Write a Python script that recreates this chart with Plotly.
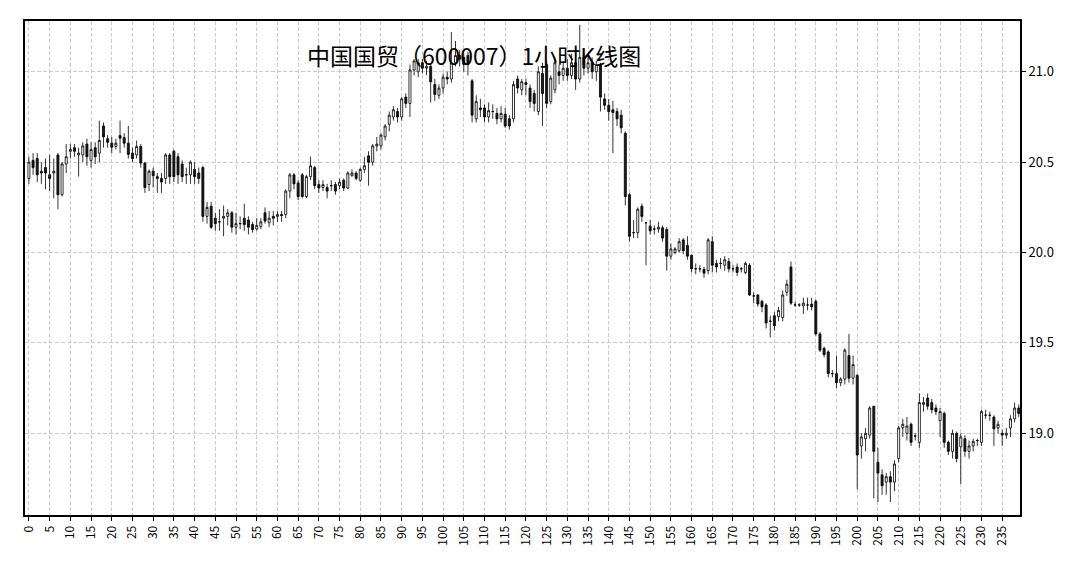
import plotly.graph_objects as go

TITLE = "中国国贸（600007）1小时K线图"

OPEN = [20.41, 20.51, 20.52, 20.45, 20.47, 20.43, 20.44, 20.54, 20.32, 20.49,
        20.56, 20.58, 20.54, 20.54, 20.60, 20.51, 20.58, 20.55, 20.70, 20.63,
        20.605, 20.587, 20.647, 20.636, 20.605, 20.55, 20.54, 20.587, 20.495, 20.376,
        20.45, 20.42, 20.41, 20.41, 20.54, 20.56, 20.53, 20.49, 20.43, 20.43,
        20.46, 20.44, 20.47, 20.20, 20.256, 20.19, 20.17, 20.19, 20.20, 20.22,
        20.14, 20.16, 20.19, 20.18, 20.155, 20.13, 20.145, 20.22, 20.165, 20.20,
        20.20, 20.21, 20.21, 20.34, 20.43, 20.385, 20.43, 20.31, 20.42, 20.47,
        20.376, 20.36, 20.36, 20.37, 20.376, 20.37, 20.40, 20.357, 20.425, 20.44,
        20.40, 20.46, 20.535, 20.50, 20.59, 20.59, 20.64, 20.71, 20.75, 20.78,
        20.75, 20.86, 20.825, 21.01, 21.00, 21.05, 21.02, 21.03, 20.93, 20.87,
        20.91, 20.97, 20.96, 21.05, 21.09, 21.08, 21.09, 20.95, 20.74, 20.80,
        20.80, 20.75, 20.78, 20.77, 20.74, 20.765, 20.74, 20.74, 20.96, 20.90,
        20.94, 20.91, 20.88, 20.78, 20.99, 21.04, 20.835, 20.90, 21.00, 20.98,
        21.02, 20.98, 21.05, 20.96, 21.08, 21.02, 21.05, 21.00, 21.04, 20.85,
        20.815, 20.79, 20.78, 20.76, 20.66, 20.32, 20.11, 20.11, 20.256, 20.165,
        20.146, 20.13, 20.13, 20.137, 20.128, 19.98, 20.00, 20.01, 20.07, 20.04,
        19.985, 19.91, 19.91, 19.907, 19.90, 20.06, 19.94, 19.94, 19.93, 19.95,
        19.91, 19.92, 19.91, 19.89, 19.93, 19.76, 19.765, 19.73, 19.71, 19.62,
        19.65, 19.645, 19.64, 19.78, 19.92, 19.71, 19.71, 19.705, 19.71, 19.715,
        19.73, 19.55, 19.47, 19.45, 19.33, 19.33, 19.28, 19.30, 19.43, 19.305,
        19.32, 18.93, 18.97, 18.99, 19.15, 18.84, 18.77, 18.73, 18.76, 18.73,
        18.86, 19.03, 19.00, 19.05, 18.985, 18.95, 19.16, 19.195, 19.17, 19.14,
        19.07, 19.11, 18.95, 18.90, 19.00, 18.925, 18.97, 18.90, 18.93, 18.96,
        18.95, 19.10, 19.10, 19.09, 19.03, 19.00, 18.99, 19.03, 19.08, 19.14]

HIGH = [20.53, 20.55, 20.55, 20.50, 20.52, 20.54, 20.52, 20.55, 20.50, 20.60,
        20.60, 20.60, 20.58, 20.61, 20.63, 20.61, 20.61, 20.73, 20.72, 20.65,
        20.64, 20.63, 20.73, 20.66, 20.70, 20.58, 20.62, 20.60, 20.50, 20.46,
        20.47, 20.44, 20.44, 20.55, 20.55, 20.57, 20.55, 20.51, 20.47, 20.51,
        20.50, 20.47, 20.48, 20.28, 20.28, 20.22, 20.24, 20.26, 20.24, 20.23,
        20.22, 20.20, 20.27, 20.20, 20.17, 20.19, 20.19, 20.25, 20.23, 20.23,
        20.23, 20.23, 20.35, 20.44, 20.44, 20.40, 20.44, 20.43, 20.53, 20.48,
        20.40, 20.40, 20.38, 20.40, 20.39, 20.41, 20.41, 20.45, 20.46, 20.45,
        20.47, 20.53, 20.56, 20.60, 20.64, 20.66, 20.71, 20.78, 20.81, 20.80,
        20.86, 20.88, 21.04, 21.07, 21.07, 21.07, 21.06, 21.04, 20.96, 20.93,
        20.99, 21.00, 21.22, 21.17, 21.12, 21.10, 21.11, 20.96, 20.87, 20.85,
        20.82, 20.83, 20.82, 20.80, 20.81, 20.80, 20.76, 20.95, 20.98, 20.96,
        20.96, 20.93, 20.90, 21.03, 21.05, 21.06, 20.98, 21.07, 21.04, 21.06,
        21.07, 21.10, 21.13, 21.26, 21.10, 21.09, 21.08, 21.06, 21.05, 20.88,
        20.85, 20.84, 20.80, 20.79, 20.67, 20.33, 20.18, 20.25, 20.27, 20.17,
        20.18, 20.15, 20.17, 20.15, 20.14, 20.05, 20.03, 20.08, 20.08, 20.09,
        19.99, 19.94, 19.93, 19.92, 20.08, 20.09, 19.96, 19.97, 19.98, 19.97,
        19.93, 19.94, 19.92, 19.95, 19.94, 19.78, 19.77, 19.74, 19.72, 19.65,
        19.67, 19.70, 19.79, 19.85, 19.95, 19.73, 19.72, 19.75, 19.75, 19.75,
        19.74, 19.56, 19.48, 19.46, 19.35, 19.43, 19.31, 19.47, 19.55, 19.43,
        19.33, 19.00, 19.03, 19.15, 19.15, 18.92, 18.80, 18.78, 18.79, 18.85,
        19.04, 19.08, 19.09, 19.06, 19.00, 19.22, 19.20, 19.22, 19.19, 19.16,
        19.14, 19.12, 18.96, 19.02, 19.01, 19.00, 18.99, 18.96, 18.97, 18.97,
        19.13, 19.13, 19.12, 19.10, 19.07, 19.02, 19.03, 19.10, 19.17, 19.16]

LOW = [20.38, 20.43, 20.39, 20.38, 20.35, 20.34, 20.30, 20.24, 20.31, 20.44,
       20.52, 20.53, 20.42, 20.50, 20.48, 20.47, 20.49, 20.50, 20.58, 20.58,
       20.55, 20.57, 20.55, 20.58, 20.52, 20.50, 20.52, 20.47, 20.33, 20.34,
       20.36, 20.33, 20.33, 20.38, 20.38, 20.39, 20.38, 20.39, 20.38, 20.38,
       20.38, 20.38, 20.17, 20.16, 20.13, 20.12, 20.12, 20.09, 20.15, 20.11,
       20.10, 20.13, 20.12, 20.10, 20.11, 20.12, 20.13, 20.16, 20.14, 20.15,
       20.17, 20.17, 20.19, 20.30, 20.35, 20.29, 20.30, 20.30, 20.40, 20.35,
       20.33, 20.34, 20.30, 20.34, 20.32, 20.35, 20.34, 20.35, 20.42, 20.40,
       20.39, 20.44, 20.37, 20.48, 20.56, 20.57, 20.62, 20.67, 20.73, 20.72,
       20.73, 20.80, 20.75, 20.98, 20.97, 20.99, 20.98, 20.83, 20.84, 20.85,
       20.88, 20.93, 20.94, 21.03, 21.03, 21.00, 20.98, 20.72, 20.72, 20.75,
       20.72, 20.72, 20.74, 20.71, 20.72, 20.69, 20.68, 20.72, 20.88, 20.87,
       20.87, 20.80, 20.78, 20.76, 20.70, 20.80, 20.82, 20.88, 20.93, 20.95,
       20.95, 20.96, 20.90, 20.94, 20.98, 20.99, 20.96, 20.95, 20.78, 20.79,
       20.73, 20.55, 20.70, 20.66, 20.26, 20.06, 20.08, 20.08, 20.17, 19.93,
       20.10, 20.10, 20.11, 20.06, 19.90, 19.96, 19.99, 20.00, 19.99, 19.96,
       19.89, 19.88, 19.89, 19.86, 19.88, 19.89, 19.89, 19.91, 19.90, 19.89,
       19.89, 19.87, 19.89, 19.88, 19.76, 19.72, 19.70, 19.67, 19.58, 19.53,
       19.57, 19.62, 19.62, 19.76, 19.71, 19.70, 19.70, 19.66, 19.68, 19.68,
       19.54, 19.45, 19.42, 19.31, 19.31, 19.25, 19.26, 19.27, 19.28, 19.27,
       18.69, 18.86, 18.90, 18.97, 18.64, 18.62, 18.66, 18.66, 18.62, 18.68,
       18.84, 18.98, 18.96, 18.93, 18.96, 18.92, 19.12, 19.13, 19.11, 19.10,
       18.98, 18.92, 18.88, 18.86, 18.84, 18.72, 18.87, 18.86, 18.90, 18.93,
       18.93, 19.08, 19.07, 18.93, 19.00, 18.93, 18.97, 18.98, 19.06, 19.09]

CLOSE = [20.50, 20.47, 20.43, 20.44, 20.44, 20.41, 20.45, 20.32, 20.49, 20.53,
         20.57, 20.56, 20.55, 20.59, 20.53, 20.57, 20.53, 20.62, 20.64, 20.61,
         20.583, 20.605, 20.633, 20.605, 20.543, 20.52, 20.587, 20.495, 20.36, 20.45,
         20.425, 20.41, 20.39, 20.54, 20.42, 20.42, 20.43, 20.42, 20.43, 20.50,
         20.42, 20.41, 20.20, 20.25, 20.14, 20.16, 20.17, 20.20, 20.22, 20.14,
         20.16, 20.16, 20.155, 20.14, 20.128, 20.15, 20.17, 20.174, 20.19, 20.19,
         20.21, 20.205, 20.34, 20.43, 20.38, 20.31, 20.31, 20.42, 20.48, 20.37,
         20.357, 20.376, 20.34, 20.37, 20.34, 20.39, 20.357, 20.44, 20.44, 20.41,
         20.46, 20.48, 20.50, 20.59, 20.60, 20.65, 20.70, 20.76, 20.79, 20.75,
         20.85, 20.825, 21.01, 21.06, 21.05, 21.02, 21.03, 20.945, 20.875, 20.91,
         20.97, 20.96, 21.05, 21.09, 21.07, 21.04, 21.04, 20.76, 20.835, 20.79,
         20.75, 20.785, 20.78, 20.74, 20.77, 20.70, 20.70, 20.93, 20.91, 20.945,
         20.93, 20.835, 20.825, 21.00, 20.88, 20.825, 20.965, 21.05, 20.98, 21.02,
         20.98, 21.05, 20.96, 21.08, 21.02, 21.05, 21.00, 21.04, 20.86, 20.815,
         20.78, 20.775, 20.74, 20.69, 20.31, 20.09, 20.11, 20.24, 20.20, 20.165,
         20.12, 20.13, 20.14, 20.08, 19.98, 20.02, 20.02, 20.06, 20.01, 19.98,
         19.91, 19.91, 19.91, 19.886, 20.07, 19.93, 19.92, 19.94, 19.96, 19.91,
         19.91, 19.89, 19.91, 19.94, 19.765, 19.76, 19.715, 19.70, 19.61, 19.62,
         19.595, 19.68, 19.765, 19.825, 19.72, 19.71, 19.71, 19.72, 19.71, 19.70,
         19.55, 19.46, 19.435, 19.33, 19.33, 19.28, 19.30, 19.46, 19.305, 19.38,
         18.88, 18.98, 19.00, 19.14, 18.90, 18.78, 18.71, 18.76, 18.73, 18.83,
         19.03, 19.05, 19.04, 18.95, 18.985, 19.17, 19.17, 19.15, 19.13, 19.12,
         19.12, 18.95, 18.90, 19.00, 18.86, 18.98, 18.90, 18.93, 18.955, 18.96,
         19.12, 19.10, 19.10, 19.025, 19.05, 18.99, 19.00, 19.08, 19.14, 19.11]

X = list(range(len(CLOSE)))
X_TICKS = list(range(0, 240, 5))
Y_TICKS = [19.0, 19.5, 20.0, 20.5, 21.0]

fig = go.Figure(go.Candlestick(
    x=X, open=OPEN, high=HIGH, low=LOW, close=CLOSE,
    increasing=dict(line=dict(color="black", width=0.8), fillcolor="white"),
    decreasing=dict(line=dict(color="black", width=0.8), fillcolor="#1a1a1a"),
    whiskerwidth=0, showlegend=False,
))

FONT = "Noto Sans CJK SC, DejaVu Sans, sans-serif"
fig.update_layout(
    width=1076, height=563,
    margin=dict(l=15, r=64, t=11, b=56),
    paper_bgcolor="white", plot_bgcolor="white",
    font=dict(family=FONT, color="black", size=12),
    annotations=[dict(text=TITLE, xref="paper", yref="paper", x=0.4513, y=0.931,
                      showarrow=False, font=dict(size=23, family=FONT, color="black"),
                      xanchor="center", yanchor="middle")],
)
fig.update_xaxes(
    range=[-0.95, 239.3], rangeslider_visible=False,
    tickmode="array", tickvals=X_TICKS, ticktext=[str(v) for v in X_TICKS],
    tickangle=-90, tickfont=dict(size=12),
    ticks="outside", ticklen=4, tickcolor="black",
    showline=True, linecolor="black", linewidth=2, mirror=True,
    showgrid=True, gridcolor="#cccccc", griddash="4px,2px", gridwidth=0.8,
    zeroline=False,
)
fig.update_yaxes(
    range=[18.548, 21.281], side="right",
    tickmode="array", tickvals=Y_TICKS, ticktext=[f"{v:.1f}" for v in Y_TICKS],
    tickfont=dict(size=13),
    ticks="outside", ticklen=4, tickcolor="black",
    showline=True, linecolor="black", linewidth=2, mirror=True,
    showgrid=True, gridcolor="#cccccc", griddash="4px,2px", gridwidth=0.8,
    zeroline=False,
)

fig.write_html("out.html")
